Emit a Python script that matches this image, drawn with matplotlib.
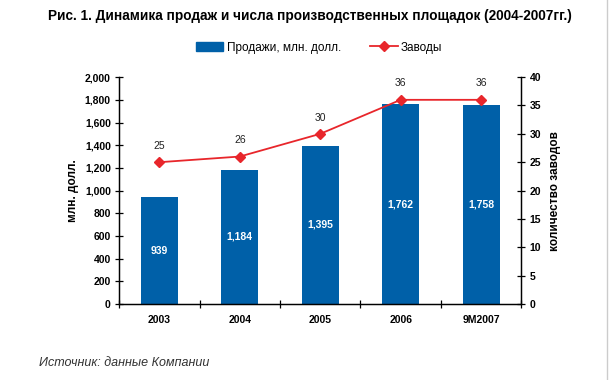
import numpy as np
import matplotlib.pyplot as plt
from matplotlib.lines import Line2D

plt.rcParams['font.family'] = ['Liberation Sans', 'DejaVu Sans']

years = ['2003', '2004', '2005', '2006', '9M2007']
sales = [939, 1184, 1395, 1762, 1758]
plants = [25, 26, 30, 36, 36]

bar_color = '#0060A8'
line_color = '#E8262B'

fig = plt.figure(figsize=(6.14, 3.8), dpi=100)
ax = fig.add_axes([0.194, 0.2, 0.655, 0.597])
ax2 = ax.twinx()

x = np.arange(len(years))
bars = ax.bar(x, sales, width=0.46, color=bar_color, zorder=2)
for xi, v in zip(x, sales):
    ax.text(xi, v / 2, f'{v:,}', color='white', fontsize=7.5, fontweight='bold',
            ha='center', va='center')

ax2.plot(x, plants, color=line_color, marker='D', markersize=5, lw=1.3, zorder=3)
for xi, v in zip(x, plants):
    ax2.text(xi, v + 2.0, str(v), fontsize=7.5, ha='center', va='bottom', color='#222222')

ax.set_xlim(-0.5, len(years) - 0.5)
ax.set_ylim(0, 2000)
ax.set_yticks(np.arange(0, 2001, 200))
ax.set_yticklabels([f'{v:,}' for v in range(0, 2001, 200)])
ax2.set_ylim(0, 40)
ax2.set_yticks(np.arange(0, 41, 5))

ax.set_xticks(x)
ax.set_xticklabels(years)
ax.set_xticks(np.arange(-0.5, len(years), 1), minor=True)
ax.tick_params(axis='x', which='major', length=0, pad=8)
ax.tick_params(axis='x', which='minor', length=6, direction='inout', width=0.9)
ax.tick_params(axis='y', length=6, direction='inout', width=0.9, pad=3)
ax2.tick_params(axis='y', length=6, direction='inout', width=0.9, pad=3)

for a in (ax, ax2):
    a.spines['top'].set_visible(False)
    for s in ('left', 'right', 'bottom'):
        a.spines[s].set_linewidth(0.9)
    for lbl in a.get_yticklabels() + a.get_xticklabels():
        lbl.set_fontsize(7.5)
        lbl.set_fontweight('bold')

ax.set_ylabel('млн. долл.', fontsize=8.5, fontweight='bold', labelpad=4)
ax2.set_ylabel('количество заводов', fontsize=8.5, fontweight='bold', rotation=90, labelpad=6)

handles = [plt.Rectangle((0, 0), 1, 1, color=bar_color),
           Line2D([0], [0], color=line_color, marker='D', markersize=5, lw=1.3)]
fig.legend(handles, ['Продажи, млн. долл.', 'Заводы'], loc='center', ncol=2,
           bbox_to_anchor=(0.52, 0.875), frameon=False, fontsize=8.5,
           handlelength=2.3, columnspacing=2.5, handletextpad=0.3)

fig.text(0.505, 0.958, 'Рис. 1. Динамика продаж и числа производственных площадок (2004-2007гг.)',
         ha='center', va='center', fontsize=9.8, fontweight='bold')
fig.text(0.063, 0.045, 'Источник: данные Компании', fontsize=9, style='italic',
         ha='left', va='center', color='#333333')

fig.add_artist(Line2D([0.988, 0.988], [0, 1], color='#CCCCCC', lw=1))

fig.savefig('out.png', dpi=100)
